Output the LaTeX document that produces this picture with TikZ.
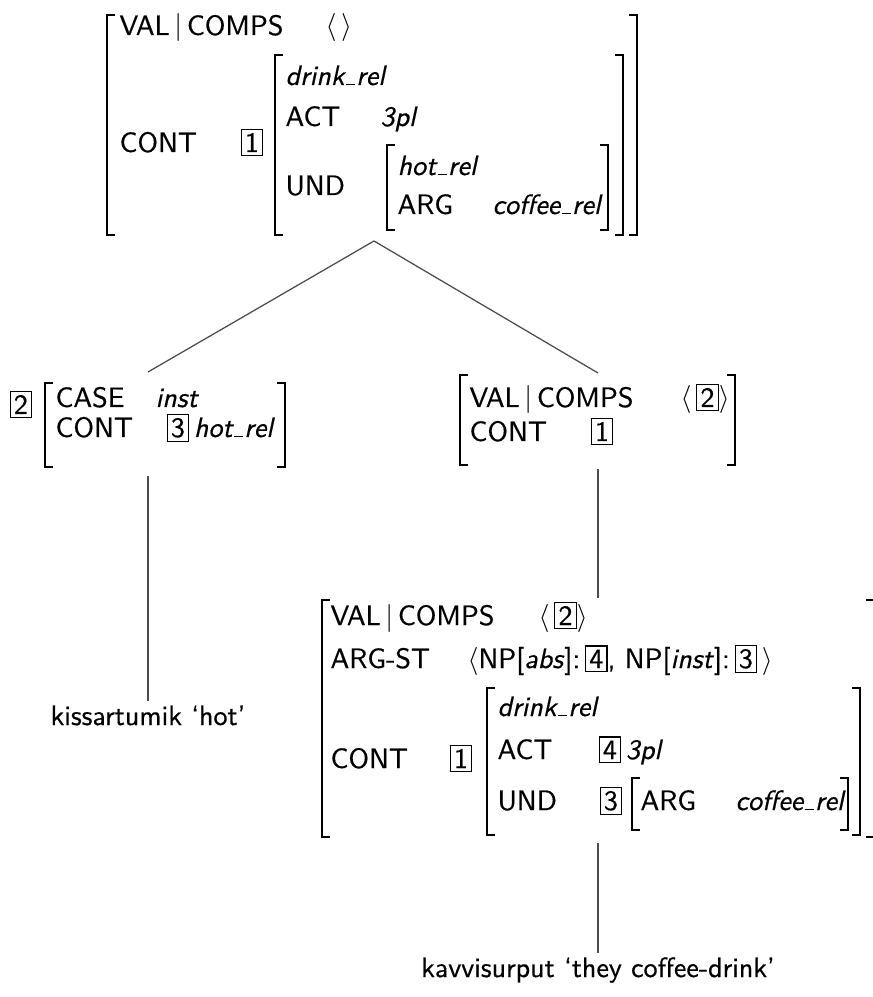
\documentclass[tikz,border=0pt]{standalone}
\usepackage{fontspec}
\setsansfont{lmsans10-regular.otf}[
  ItalicFont=lmsans10-oblique.otf,
  FakeBold=0.5]
\newcommand\tg[1]{{\setlength\fboxsep{1.1pt}\setlength\fboxrule{0.45pt}\fbox{#1}}}
\newcommand\usc{\kern.05em\rule[-0.15pt]{.32em}{.6pt}\kern.05em}
\newcommand\avmL[3]{\draw[brk] (#1+8,#2) -- (#1,#2) -- (#1,#3) -- (#1+8,#3);}
\newcommand\avmR[3]{\draw[brk] (#1-8,#2) -- (#1,#2) -- (#1,#3) -- (#1-8,#3);}
\begin{document}
\begin{tikzpicture}[x=0.357pt,y=-0.357pt,
  txt/.style={anchor=base west,inner sep=0pt,font=\sffamily},
  leaf/.style={anchor=base,inner sep=1.5pt,font=\sffamily},
  brk/.style={line width=0.7pt,line cap=butt},
  branch/.style={line width=0.45pt,draw=black!70}]
\useasboundingbox (0,0) rectangle (872,997);

% ---------- mother AVM ----------
\avmL{107}{15}{235}
\avmR{637}{15}{235}
\node[txt] (m-val)  at (119,35)  {VAL\,$|$\,COMPS};
\node[txt] (m-comps) at (325,35) {$\langle\,\rangle$};
\node[txt] (m-cont) at (119,152) {CONT};
\node[txt] (m-tag1) at (240,152) {\tg{1}};
\avmL{275}{55}{235}
\avmR{623}{55}{235}
\node[txt] (m-type) at (285,85)  {\itshape drink\usc rel};
\node[txt] (m-act)  at (285,126) {ACT};
\node[txt] (m-actv) at (380,126) {\itshape 3pl};
\node[txt] (m-und)  at (285,195) {UND};
\avmL{387}{145}{230}
\avmR{608}{145}{230}
\node[txt] (m-hot)  at (397,175) {\itshape hot\usc rel};
\node[txt] (m-arg)  at (397,214) {ARG};
\node[txt] (m-argv) at (492,214) {\itshape coffee\usc rel};
\coordinate (m-foot) at (374,241);

% ---------- left daughter ----------
\node[txt] (l-tag2) at (9,414) {\tg{2}};
\avmL{45}{383}{467}
\avmR{285}{383}{467}
\node[txt] (l-case) at (55,407)  {CASE};
\node[txt] (l-casev) at (155,407) {\itshape inst};
\node[txt] (l-cont) at (55,437)  {CONT};
\node[txt] (l-contv) at (166,437) {\tg{3}\,\itshape hot\usc rel};
\coordinate (l-head) at (148,372);
\coordinate (l-foot) at (148,476);
\node[leaf] (l-word) at (148,725) {kissartumik `hot'};

% ---------- right daughter ----------
\avmL{460}{375}{465}
\avmR{735}{375}{465}
\node[txt] (r-val)  at (469,407) {VAL\,$|$\,COMPS};
\node[txt] (r-comps) at (680,407) {$\langle$\,\tg{2}$\rangle$};
\node[txt] (r-cont) at (469,441) {CONT};
\node[txt] (r-tag1) at (590,441) {\tg{1}};
\coordinate (r-head) at (598,373);
\coordinate (r-foot) at (598,469);

% ---------- lexical AVM ----------
\avmL{322}{600}{837}
\avmR{874}{600}{837}
\node[txt] (v-val)  at (330,625) {VAL\,$|$\,COMPS};
\node[txt] (v-comps) at (538,625) {$\langle$\,\tg{2}$\rangle$};
\node[txt] (v-args) at (330,668) {ARG-ST};
\node[txt] (v-argsv) at (467,668)
  {$\langle$NP[\textit{abs}]:\,\tg{4}, NP[\textit{inst}]:\,\tg{3}\,$\rangle$};
\node[txt] (v-cont) at (330,768) {CONT};
\node[txt] (v-tag1) at (449,768) {\tg{1}};
\avmL{487}{688}{835}
\avmR{860}{688}{835}
\node[txt] (v-type) at (497,716) {\itshape drink\usc rel};
\node[txt] (v-act)  at (497,759) {ACT};
\node[txt] (v-actv) at (598,759) {\tg{4}\,\itshape 3pl};
\node[txt] (v-und)  at (497,810) {UND};
\node[txt] (v-tag3) at (599,810) {\tg{3}};
\avmL{632}{778}{830}
\avmR{848}{778}{830}
\node[txt] (v-arg)  at (640,810) {ARG};
\node[txt] (v-argv) at (735,810) {\itshape coffee\usc rel};
\coordinate (v-head) at (598,598);
\coordinate (v-foot) at (598,843);
\node[leaf] (v-word) at (598,977) {kavvisurput `they coffee-drink'};

% ---------- tree branches ----------
\draw[branch] (m-foot) -- (l-head);
\draw[branch] (m-foot) -- (r-head);
\draw[branch] (l-foot) -- (l-word.north);
\draw[branch] (r-foot) -- (v-head);
\draw[branch] (v-foot) -- (v-word.north);
\end{tikzpicture}
\end{document}
